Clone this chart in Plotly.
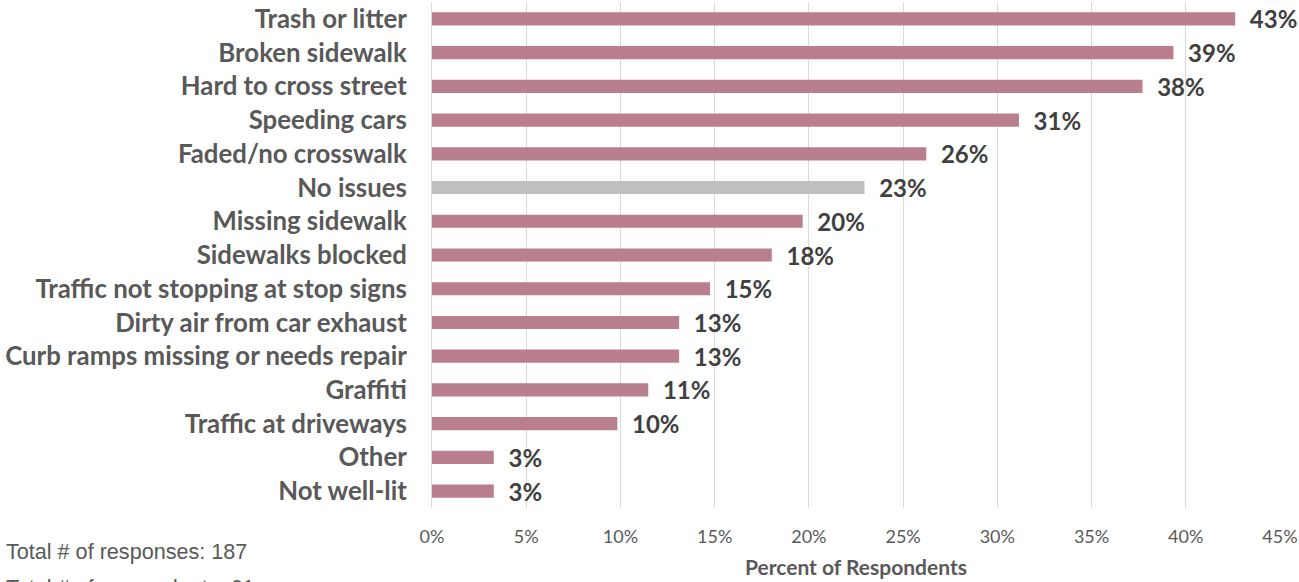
import plotly.graph_objects as go

# Survey: walking issues reported near home
categories = [
    "Trash or litter", "Broken sidewalk", "Hard to cross street", "Speeding cars",
    "Faded/no crosswalk", "No issues", "Missing sidewalk", "Sidewalks blocked",
    "Traffic not stopping at stop signs", "Dirty air from car exhaust",
    "Curb ramps missing or needs repair", "Graffiti", "Traffic at driveways",
    "Other", "Not well-lit",
]
counts = [26, 24, 23, 19, 16, 14, 12, 11, 9, 8, 8, 7, 6, 2, 2]
respondents = 61
total_responses = 187

x_ticks = [0, 0.05, 0.10, 0.15, 0.20, 0.25, 0.30, 0.35, 0.40, 0.45]
x_tick_labels = ["0%", "5%", "10%", "15%", "20%", "25%", "30%", "35%", "40%", "45%"]

shares = [c / respondents for c in counts]
bar_colors = ["#BFBFBF" if c == "No issues" else "#B97F8F" for c in categories]

fig = go.Figure(
    go.Bar(
        x=shares,
        y=categories,
        orientation="h",
        marker=dict(color=bar_colors, line=dict(width=0)),
        texttemplate="\u00a0\u00a0%{x:.0%}",
        textposition="outside",
        constraintext="none",
        textfont=dict(family="Lato", size=24, color="#404040", weight="bold"),
        cliponaxis=False,
        hoverinfo="skip",
    )
)

fig.update_layout(
    width=1299,
    height=582,
    margin=dict(l=432, r=19, t=2, b=74, autoexpand=False),
    plot_bgcolor="white",
    paper_bgcolor="white",
    bargap=0.61,
    showlegend=False,
    xaxis=dict(
        range=[0, 0.45],
        tickvals=x_ticks,
        ticktext=x_tick_labels,
        showgrid=True,
        gridcolor="#D9D9D9",
        gridwidth=1,
        zeroline=False,
        showline=False,
        ticks="",
        automargin=False,
        ticklabelstandoff=16,
        tickfont=dict(family="Lato", size=18, color="#595959"),
        title=dict(
            text="Percent of Respondents",
            font=dict(family="Lato", size=21, color="#595959", weight="bold"),
            standoff=14,
        ),
    ),
    yaxis=dict(
        autorange="reversed",
        showline=True,
        linecolor="#D9D9D9",
        linewidth=1,
        ticks="",
        automargin=False,
        ticklabelstandoff=19,
        tickfont=dict(family="Lato", size=25.8, color="#595959", weight="bold"),
    ),
    annotations=[
        dict(
            text=f"Total # of responses: {total_responses}",
            xref="paper", yref="paper", x=-428 / 848, y=-43 / 506,
            xanchor="left", yanchor="middle", showarrow=False,
            font=dict(family="Liberation Sans", size=21.6, color="#595959"),
        ),
        dict(
            text=f"Total # of respondents: {respondents}",
            xref="paper", yref="paper", x=-428 / 848, y=-79 / 506,
            xanchor="left", yanchor="middle", showarrow=False,
            font=dict(family="Liberation Sans", size=21.6, color="#595959"),
        ),
    ],
)

fig.write_html("out.html")
